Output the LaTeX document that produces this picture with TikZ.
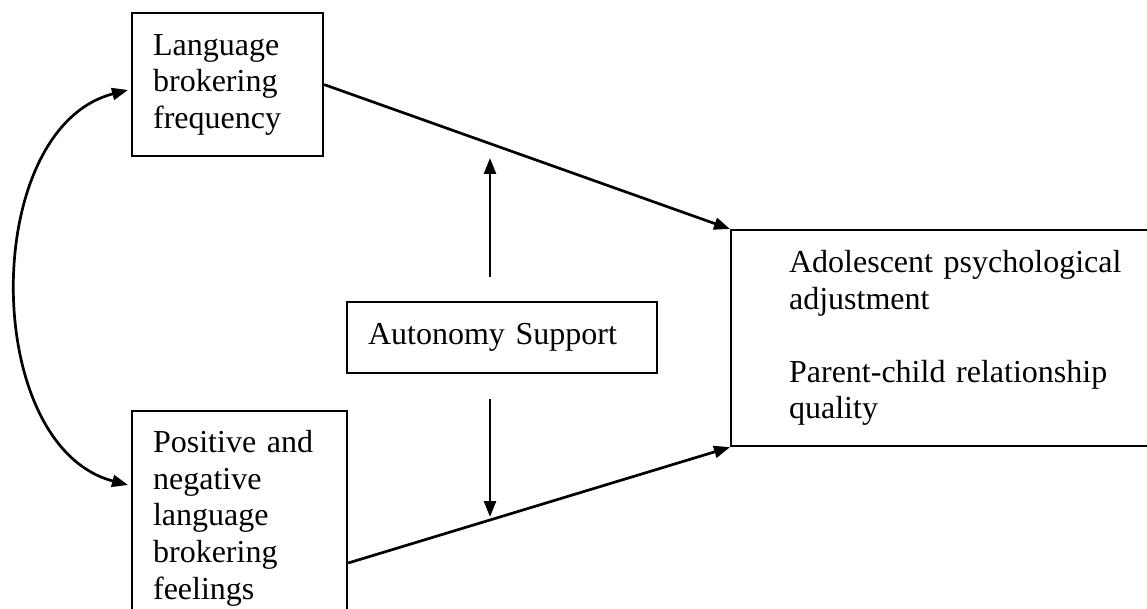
\documentclass[tikz,border=0pt]{standalone}
\usepackage{fontspec}
\setmainfont{Liberation Serif}
\usetikzlibrary{arrows.meta,positioning,calc}
\tikzset{
modelbox/.style={draw, line width=1.1pt, align=left, inner xsep=10.5pt, inner ysep=9.7pt, anchor=north west},
modelarrow/.style={-{Triangle[length=8pt,width=6pt]}, line width=1.35pt},
modelboth/.style={{Triangle[length=8pt,width=6pt]}-{Triangle[length=8pt,width=6pt]}, line width=1.35pt}
}

\begin{document}
\begin{tikzpicture}[x=0.5pt, y=-0.5pt, font=\fontsize{16}{18.3}\selectfont]
  \clip (0,0) rectangle (1147,609);
  \node[modelbox, text width=74.5pt, minimum height=71.5pt] (freq) at (131,12) {Language\\brokering\\frequency};
  \node[modelbox, text width=86.5pt] (feel) at (131,410) {Positive and\\negative\\language\\brokering\\feelings};
  \node[modelbox, text width=134pt, minimum height=35.5pt] (auto) at (346,301) {Autonomy Support};
  \node[modelbox, inner xsep=29pt, text width=190pt, minimum height=108pt] (outc) at (730,229) {Adolescent psychological\\adjustment\\[18.3pt]Parent-child relationship\\quality};
  \coordinate (modup) at (490,158);
  \coordinate (moddown) at (490,517);
  % paths into the outcomes
  \draw[modelarrow] (freq.east) -- (outc.north west);
  \draw[modelarrow] ([yshift=-76.5pt]feel.north east) -- (outc.south west);
  % moderator
  \draw[modelarrow] ($(auto.north -| modup)+(0,-24)$) -- (modup);
  \draw[modelarrow] ($(auto.south -| moddown)+(0,25)$) -- (moddown);
  % covariance
  \draw[modelboth] ([xshift=-1.5pt,yshift=-39pt]freq.north west) .. controls (-20,128) and (-20,446) .. ([xshift=-1.5pt,yshift=-37.5pt]feel.north west);
\end{tikzpicture}
\end{document}
